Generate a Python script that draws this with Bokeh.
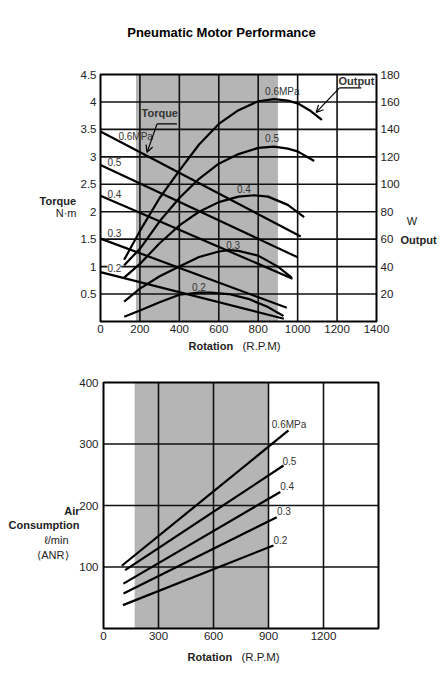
from bokeh.plotting import figure
from bokeh.models import Range1d, LinearAxis, FixedTicker, Label, Arrow, OpenHead
from bokeh.layouts import column
from bokeh.embed import file_html
from bokeh.resources import INLINE

# ---------------- data: top chart (torque / output) ----------------
pressures = ["0.6", "0.5", "0.4", "0.3", "0.2"]
torque_rpm = [[0, 1016], [0, 1000], [0, 974], [0, 945], [0, 930]]
torque_nm = [[3.46, 1.55], [2.85, 1.17], [2.29, 0.78], [1.51, 0.25], [0.90, 0.05]]

out_rpm_06 = [120, 200, 300, 400, 500, 600, 700, 800, 880, 950, 1000, 1060, 1123]
out_w_06 = [45, 66, 90, 110, 129, 144, 154, 160.5, 162, 161, 159, 154, 147]
out_rpm_05 = [120, 200, 300, 400, 500, 600, 700, 800, 880, 950, 1000, 1084]
out_w_05 = [41, 53, 73, 90, 104, 115, 122, 126.5, 127.5, 126, 124, 117]
out_rpm_04 = [120, 200, 300, 400, 500, 600, 700, 780, 850, 950, 1033]
out_w_04 = [32, 42, 57, 70, 80, 87, 91, 92, 91, 85, 76]
out_rpm_03 = [120, 200, 300, 400, 500, 600, 650, 700, 800, 900, 970]
out_w_03 = [14.5, 24, 33, 40, 47, 51, 52, 51.5, 48, 40, 32]
out_rpm_02 = [120, 200, 300, 400, 500, 560, 650, 750, 850, 928]
out_w_02 = [3.5, 8, 14, 19.5, 21, 21, 20, 16.5, 10.5, 4]

top_x_ticks = [0, 200, 400, 600, 800, 1000, 1200, 1400]
top_y_ticks = [0.5, 1, 1.5, 2, 2.5, 3, 3.5, 4, 4.5]
top_w_ticks = [20, 40, 60, 80, 100, 120, 140, 160, 180]
top_shade = [180, 900]

# ---------------- data: bottom chart (air consumption) ----------------
air_rpm = [[100, 1009], [118, 982], [109, 964], [109, 945], [106, 927]]
air_flow = [[102, 322], [95, 265], [73, 222], [57, 181], [38, 135]]
bot_x_ticks = [0, 300, 600, 900, 1200]
bot_y_ticks = [100, 200, 300, 400]
bot_shade = [170, 900]

FONT = "Liberation Sans"
GRAY = "#b5b5b5"
TXT = "#222222"
W = 446

# page-pixel geometry of the two plot areas (layout only)
T_L, T_R, T_T, T_B, T_H = 100, 376, 74, 321, 364
B_L, B_R, B_T, B_B, B_H = 103, 378, 18, 264, 313   # bottom: y relative to its figure top


def make_fig(xmax, ymax, L, R, T, B, H):
    kx = xmax / (R - L)
    ky = ymax / (B - T)
    p = figure(width=W, height=H, x_range=Range1d(-L * kx, (W - L) * kx),
               y_range=Range1d(-(H - B) * ky, B * ky), x_axis_location=None,
               y_axis_location=None, output_backend="svg", toolbar_location=None,
               min_border=0, min_border_left=0, min_border_right=0,
               min_border_top=0, min_border_bottom=0)
    p.outline_line_color = None
    p.background_fill_color = "white"
    p.border_fill_color = "white"
    for g in p.grid:
        g.visible = False

    def px(x, y):
        return (x - L) * kx, (B - y) * ky
    return p, px


def axis(p, side, ticks, loc, standoff, y_range_name="default"):
    ax = LinearAxis(fixed_location=loc, ticker=FixedTicker(ticks=ticks),
                    y_range_name=y_range_name)
    ax.major_tick_in = 0
    ax.major_tick_out = 0
    ax.minor_tick_line_color = None
    ax.axis_line_color = None
    ax.major_label_text_font = FONT
    ax.major_label_text_font_size = "11.5px"
    ax.major_label_text_color = TXT
    ax.major_label_standoff = standoff
    p.add_layout(ax, side)


def lab(p, text, x, y, size="10px", bold=False, align="left", color="#333333",
        bg=None, y_range_name="default"):
    l = Label(x=x, y=y, text=text, text_font=FONT, text_font_size=size,
              text_font_style="bold" if bold else "normal", text_align=align,
              text_baseline="middle", text_color=color, y_range_name=y_range_name)
    if bg:
        l.background_fill_color = bg
    p.add_layout(l)


def frame_and_grid(p, xmax, ymax, xg, yg):
    p.segment(x0=xg, y0=[0] * len(xg), x1=xg, y1=[ymax] * len(xg),
              line_color="#111111", line_width=1.6)
    p.segment(x0=[0] * len(yg), y0=yg, x1=[xmax] * len(yg), y1=yg,
              line_color="#111111", line_width=1.6)


# ================= top figure =================
p1, px1 = make_fig(1400, 4.5, T_L, T_R, T_T, T_B, T_H)
p1.extra_y_ranges = {"w": Range1d(p1.y_range.start * 40, p1.y_range.end * 40)}
axis(p1, "left", top_y_ticks, 0, 4)
axis(p1, "right", top_w_ticks, 1400, 4, y_range_name="w")
axis(p1, "below", top_x_ticks, 0, 3)

p1.quad(left=[top_shade[0]], right=[top_shade[1]], bottom=[0], top=[4.5],
        fill_color=GRAY, line_color=None)
frame_and_grid(p1, 1400, 4.5, top_x_ticks[1:-1], top_y_ticks[:-1])

for xs, ys in zip(torque_rpm, torque_nm):
    p1.line(xs, ys, line_color="black", line_width=2.2)
for xs, ys in [(out_rpm_06, out_w_06), (out_rpm_05, out_w_05), (out_rpm_04, out_w_04),
               (out_rpm_03, out_w_03), (out_rpm_02, out_w_02)]:
    p1.line(xs, ys, line_color="black", line_width=2.2, y_range_name="w")
p1.quad(left=[0], right=[1400], bottom=[0], top=[4.5], fill_color=None,
        line_color="black", line_width=2)

# torque line labels
lab(p1, "0.6MPa", 91, 3.37)
lab(p1, "0.5", 35, 2.90)
lab(p1, "0.4", 35, 2.33)
lab(p1, "0.3", 35, 1.61)
lab(p1, "0.2", 35, 0.98, bg="white")
# output curve labels
lab(p1, "0.6MPa", 835, 4.19)
lab(p1, "0.5", 835, 3.34)
lab(p1, "0.4", 692, 2.41)
lab(p1, "0.3", 638, 1.40)
lab(p1, "0.2", 464, 0.63)

# callouts
lab(p1, "Torque", 208, 3.79, size="11px", bold=True)
p1.segment(x0=[287], y0=[3.60], x1=[388], y1=[3.60], line_color="black", line_width=1.2)
p1.add_layout(Arrow(end=OpenHead(size=7, line_width=1.2), x_start=287, y_start=3.60,
                    x_end=236, y_end=3.08, line_width=1.2))
lab(p1, "Output", 1207, 4.39, size="11px", bold=True)
p1.segment(x0=[1212], y0=[4.255], x1=[1323], y1=[4.255], line_color="black", line_width=1.2)
p1.add_layout(Arrow(end=OpenHead(size=7, line_width=1.2), x_start=1212, y_start=4.255,
                    x_end=1094, y_end=3.81, line_width=1.2))

# titles (positions given in page pixels)
lab(p1, "Pneumatic Motor Performance", *px1(221, 32), size="13px", bold=True,
    align="center", color="black")
lab(p1, "Torque", *px1(75.5, 200.5), size="11px", bold=True, align="right", color=TXT)
lab(p1, "N·m", *px1(76, 212.5), size="11px", align="right", color=TXT)
lab(p1, "W", *px1(411.5, 220.5), size="11px", align="center", color=TXT)
lab(p1, "Output", *px1(400, 239), size="11px", bold=True, color=TXT)
lab(p1, "Rotation", *px1(188, 345), size="11px", bold=True, color=TXT)
lab(p1, "(R.P.M)", *px1(242, 345), size="11.5px", color=TXT)

# ================= bottom figure =================
p2, px2 = make_fig(1500, 400, B_L, B_R, B_T, B_B, B_H)
axis(p2, "left", bot_y_ticks, 0, 5)
axis(p2, "below", bot_x_ticks, 0, 3)

p2.quad(left=[bot_shade[0]], right=[bot_shade[1]], bottom=[0], top=[400],
        fill_color=GRAY, line_color=None)
frame_and_grid(p2, 1500, 400, bot_x_ticks[1:], bot_y_ticks[:-1])
for xs, ys in zip(air_rpm, air_flow):
    p2.line(xs, ys, line_color="black", line_width=2.2)
p2.quad(left=[0], right=[1500], bottom=[0], top=[400], fill_color=None,
        line_color="black", line_width=2)

lab(p2, "0.6MPa", 918, 331)
lab(p2, "0.5", 976, 273)
lab(p2, "0.4", 964, 231)
lab(p2, "0.3", 946, 191)
lab(p2, "0.2", 927, 144)

OFF = T_H  # page y of bottom figure top
lab(p2, "Air", *px2(79, 510 - OFF), size="11px", bold=True, align="right", color=TXT)
lab(p2, "Consumption", *px2(79, 524.5 - OFF), size="11px", bold=True, align="right", color=TXT)
lab(p2, "ℓ/min", *px2(68, 539.5 - OFF), size="11px", align="right", color=TXT)
lab(p2, "⟨ANR⟩", *px2(68, 554.5 - OFF), size="11px", align="right", color=TXT)
lab(p2, "Rotation", *px2(187, 656 - OFF), size="11px", bold=True, color=TXT)
lab(p2, "(R.P.M)", *px2(241, 656 - OFF), size="11.5px", color=TXT)

layout = column(p1, p2)
open("out.html", "w").write(file_html(layout, INLINE))
